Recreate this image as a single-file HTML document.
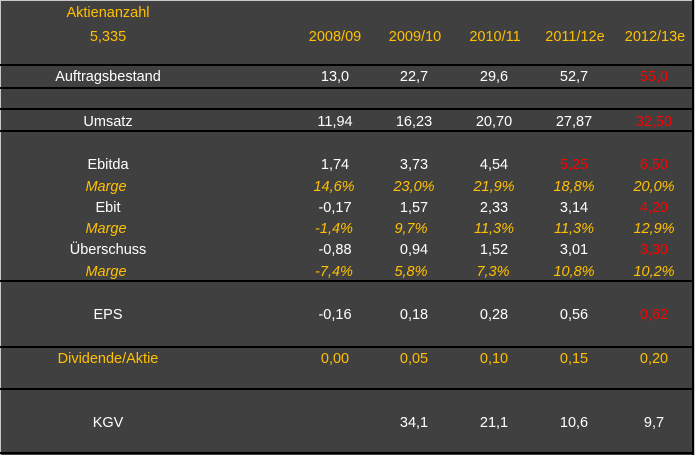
<!DOCTYPE html>
<html><head><meta charset="utf-8"><style>
html,body{margin:0;padding:0;background:#c8c8c8;}
svg{display:block;}
text{font-family:"Liberation Sans",sans-serif;font-size:14.5px;text-anchor:middle;}
.w{fill:#ffffff}.o{fill:#ffc000}.r{fill:#ff0000}.i{font-style:italic}
</style></head><body>
<svg width="695" height="455" xmlns="http://www.w3.org/2000/svg">
<rect x="1" y="1" width="691" height="454" fill="#404040"/>
<rect x="692" y="0" width="2" height="455" fill="#000"/>
<g fill="#000">
<rect x="0" y="64" width="692" height="2"/>
<rect x="0" y="87" width="692" height="2"/>
<rect x="0" y="108" width="692" height="2"/>
<rect x="0" y="130" width="692" height="2"/>
<rect x="0" y="280" width="692" height="2"/>
<rect x="0" y="346" width="692" height="2"/>
<rect x="0" y="388" width="692" height="2"/>
<rect x="0" y="452" width="692" height="2"/>
</g>
<g>
<text x="108" y="17" class="o">Aktienanzahl</text>
<text x="108" y="41" class="o">5,335</text>
<text x="335" y="41" class="o">2008/09</text>
<text x="415" y="41" class="o">2009/10</text>
<text x="495" y="41" class="o">2010/11</text>
<text x="575" y="41" class="o">2011/12e</text>
<text x="655" y="41" class="o">2012/13e</text>

<text x="108" y="81" class="w">Auftragsbestand</text>
<text x="335" y="81" class="w">13,0</text><text x="414" y="81" class="w">22,7</text><text x="494" y="81" class="w">29,6</text><text x="574" y="81" class="w">52,7</text><text x="654" y="81" class="r">55,0</text>

<text x="108" y="126" class="w">Umsatz</text>
<text x="335" y="126" class="w">11,94</text><text x="414" y="126" class="w">16,23</text><text x="494" y="126" class="w">20,70</text><text x="574" y="126" class="w">27,87</text><text x="654" y="126" class="r">32,50</text>

<text x="108" y="169" class="w">Ebitda</text>
<text x="335" y="169" class="w">1,74</text><text x="414" y="169" class="w">3,73</text><text x="494" y="169" class="w">4,54</text><text x="574" y="169" class="r">5,25</text><text x="654" y="169" class="r">6,50</text>

<text x="106" y="191" class="o i">Marge</text>
<text x="334" y="191" class="o i">14,6%</text><text x="414" y="191" class="o i">23,0%</text><text x="494" y="191" class="o i">21,9%</text><text x="574" y="191" class="o i">18,8%</text><text x="654" y="191" class="o i">20,0%</text>

<text x="108" y="212" class="w">Ebit</text>
<text x="335" y="212" class="w">-0,17</text><text x="414" y="212" class="w">1,57</text><text x="494" y="212" class="w">2,33</text><text x="574" y="212" class="w">3,14</text><text x="654" y="212" class="r">4,20</text>

<text x="106" y="233" class="o i">Marge</text>
<text x="334" y="233" class="o i">-1,4%</text><text x="411" y="233" class="o i">9,7%</text><text x="494" y="233" class="o i">11,3%</text><text x="574" y="233" class="o i">11,3%</text><text x="654" y="233" class="o i">12,9%</text>

<text x="108" y="254" class="w">Überschuss</text>
<text x="335" y="254" class="w">-0,88</text><text x="414" y="254" class="w">0,94</text><text x="494" y="254" class="w">1,52</text><text x="574" y="254" class="w">3,01</text><text x="654" y="254" class="r">3,30</text>

<text x="106" y="276" class="o i">Marge</text>
<text x="334" y="276" class="o i">-7,4%</text><text x="411" y="276" class="o i">5,8%</text><text x="493" y="276" class="o i">7,3%</text><text x="574" y="276" class="o i">10,8%</text><text x="654" y="276" class="o i">10,2%</text>

<text x="108" y="319" class="w">EPS</text>
<text x="335" y="319" class="w">-0,16</text><text x="414" y="319" class="w">0,18</text><text x="494" y="319" class="w">0,28</text><text x="574" y="319" class="w">0,56</text><text x="654" y="319" class="r">0,62</text>

<text x="108" y="363" class="o">Dividende/Aktie</text>
<text x="335" y="363" class="o">0,00</text><text x="414" y="363" class="o">0,05</text><text x="494" y="363" class="o">0,10</text><text x="574" y="363" class="o">0,15</text><text x="654" y="363" class="o">0,20</text>

<text x="108" y="427" class="w">KGV</text>
<text x="414" y="427" class="w">34,1</text><text x="494" y="427" class="w">21,1</text><text x="574" y="427" class="w">10,6</text><text x="654" y="427" class="w">9,7</text>
</g>
</svg>
</body></html>
